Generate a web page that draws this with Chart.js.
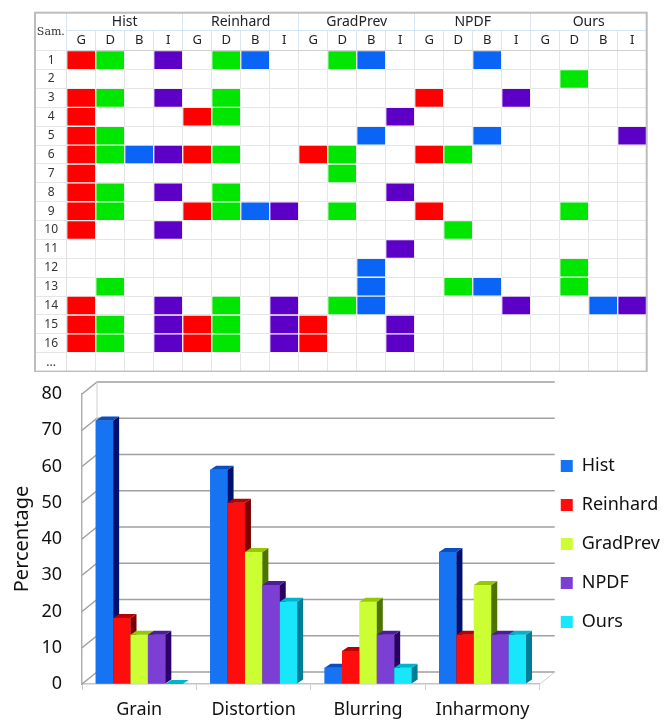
<!DOCTYPE html>
<html lang="en">
<head>
<meta charset="UTF-8">
<title>Artifacts per sample</title>
<script src="https://cdn.jsdelivr.net/npm/chart.js@4.4.1/dist/chart.umd.min.js"></script>
<style>
  body{margin:0; background:#fff;}
  #tableBox{position:absolute; left:0; top:0; width:670px; height:372px;}
  #barBox{position:absolute; left:0; top:372px; width:670px; height:350px;}
</style>
</head>
<body>
<div id="tableBox"><canvas id="tableChart"></canvas></div>
<div id="barBox"><canvas id="barChart"></canvas></div>
<script>
// ---- table data ----
const methods = ['Hist', 'Reinhard', 'GradPrev', 'NPDF', 'Ours'];
const artifacts = ['G', 'D', 'B', 'I'];
const sampleRows = ['1','2','3','4','5','6','7','8','9','10','11','12','13','14','15','16','...'];
// flagged columns per sample, column = method index * 4 + artifact index
const flaggedCells = [
  [0,1,3,5,6,9,10,14],
  [17],
  [0,1,3,5,12,15],
  [0,4,5,11],
  [0,1,10,14,19],
  [0,1,2,3,4,5,8,9,12,13],
  [0,9],
  [0,1,3,5,11],
  [0,1,4,5,6,7,9,12,17],
  [0,3,13],
  [11],
  [10,17],
  [1,10,13,14,17],
  [0,3,5,7,9,10,15,18,19],
  [0,1,3,4,5,7,8,11],
  [0,1,3,4,5,7,8,11],
  []
];

// ---- bar chart data ----
const categories = ['Grain', 'Distortion', 'Blurring', 'Inharmony'];
const histPct = [72.7, 59.1, 4.5, 36.4];
const reinhardPct = [18.2, 50.0, 9.1, 13.6];
const gradPrevPct = [13.6, 36.4, 22.7, 27.3];
const npdfPct = [13.6, 27.3, 13.6, 13.6];
const oursPct = [0, 22.7, 4.5, 13.6];

const cellColors = ['#ff0000', '#00e600', '#0a64f5', '#5c00c8'];
const frontColors = ['#1673f2', '#ff0d0d', '#ccff33', '#7b3fd4', '#18e6fb'];
const sideColors = ['#00106e', '#7a0000', '#4d7300', '#2a0066', '#007d96'];
const topColors = ['#0a4ec0', '#b80000', '#95c800', '#4c1c9c', '#00b4cc'];

const WALL_DX = 15, WALL_DY = -12;
const BAR_DX = 6, BAR_DY = -4;

// ---------- table ----------
const nCols = methods.length * artifacts.length;
const tableDatasets = [];
for (let c = 0; c < nCols; c++) {
  tableDatasets.push({
    label: methods[Math.floor(c / 4)] + ' ' + artifacts[c % 4],
    data: flaggedCells.map(cols => cols.includes(c) ? [c, c + 1] : null),
    backgroundColor: cellColors[c % 4],
    borderColor: 'rgba(255,255,255,0.35)',
    borderWidth: 1,
    borderSkipped: false,
    grouped: false,
    categoryPercentage: 1,
    barPercentage: 1
  });
}

const tableFrame = {
  id: 'tableFrame',
  afterDraw(chart) {
    const {ctx, chartArea, scales} = chart;
    const left = scales.y.left, top = scales.x2.top;
    ctx.save();
    ctx.fillStyle = '#333';
    ctx.font = '11px "DejaVu Serif"';
    ctx.textAlign = 'center';
    ctx.textBaseline = 'middle';
    ctx.fillText('Sam.', left + scales.y.width / 2, (top + chartArea.top) / 2);
    ctx.strokeStyle = '#bdbdbd';
    ctx.lineWidth = 2;
    ctx.strokeRect(left, top, chartArea.right - left, chartArea.bottom - top);
    ctx.restore();
  }
};

new Chart(document.getElementById('tableChart'), {
  type: 'bar',
  data: {labels: sampleRows, datasets: tableDatasets},
  options: {
    indexAxis: 'y',
    responsive: true,
    maintainAspectRatio: false,
    animation: false,
    layout: {padding: {left: 35, right: 23.3, top: 12.7, bottom: 0.4}},
    plugins: {legend: {display: false}, tooltip: {enabled: false}},
    scales: {
      x: {
        type: 'linear', position: 'top', min: 0, max: nCols, weight: 0,
        afterBuildTicks: s => { s.ticks = Array.from({length: nCols}, (_, i) => ({value: i + 0.5})); },
        afterFit: s => { s.height = 20; },
        ticks: {autoSkip: false, maxRotation: 0, padding: -17.8, color: '#222',
          font: {family: 'Noto Sans', size: 13}, callback: (v, i) => artifacts[i % 4]},
        grid: {offset: true, color: '#e6e6e6', tickColor: '#d9e6f0', tickLength: 20},
        border: {color: '#d0d0d0'}
      },
      x2: {
        type: 'linear', position: 'top', min: 0, max: nCols, weight: 1,
        afterBuildTicks: s => { s.ticks = methods.map((m, i) => ({value: i * 4 + 2})); },
        afterFit: s => { s.height = 18; },
        ticks: {autoSkip: false, maxRotation: 0, padding: -17.4, color: '#222',
          font: {family: 'Noto Sans', size: 14}, callback: (v, i) => methods[i]},
        grid: {offset: true, drawOnChartArea: false, tickColor: '#d6e6f2', tickLength: 18},
        border: {color: '#d6e6f2'}
      },
      y: {
        type: 'category', position: 'left',
        afterFit: s => { s.width = 31.7; },
        ticks: {crossAlign: 'center', padding: -23, color: '#333', font: {family: 'Noto Sans', size: 12}},
        grid: {offset: true, color: '#e6e6e6', tickColor: '#e6e6e6', tickLength: 31.7},
        border: {color: '#e0e0e0'}
      }
    }
  },
  plugins: [tableFrame]
});

// ---------- 3D bar chart ----------
const fill = (ctx, pts) => {
  ctx.beginPath();
  ctx.moveTo(pts[0][0], pts[0][1]);
  for (let i = 1; i < pts.length; i++) ctx.lineTo(pts[i][0], pts[i][1]);
  ctx.closePath();
  ctx.fill();
};

const box3d = {
  id: 'box3d',
  beforeDatasetsDraw(chart) {
    const {ctx, chartArea: a, scales: {y}} = chart;
    ctx.save();
    ctx.strokeStyle = '#a0a0a0';
    ctx.lineWidth = 1.5;
    y.ticks.forEach(t => {
      const py = y.getPixelForValue(t.value);
      ctx.beginPath();
      ctx.moveTo(a.left, py);
      ctx.lineTo(a.left + WALL_DX, py + WALL_DY);
      ctx.lineTo(a.right + WALL_DX, py + WALL_DY);
      ctx.stroke();
    });
    ctx.strokeStyle = '#cfcfcf';
    ctx.lineWidth = 1;
    ctx.beginPath();
    ctx.moveTo(a.left + WALL_DX, a.top + WALL_DY);
    ctx.lineTo(a.left + WALL_DX, a.bottom + WALL_DY);
    ctx.moveTo(a.right, a.bottom);
    ctx.lineTo(a.right + WALL_DX, a.bottom + WALL_DY);
    ctx.stroke();
    ctx.restore();
  },
  // repaint every bar from the first series to the last so each
  // bar's front face hides the side face of its left neighbour
  afterDatasetsDraw(chart) {
    const ctx = chart.ctx;
    ctx.save();
    chart.data.datasets.forEach((ds, i) => {
      chart.getDatasetMeta(i).data.forEach(bar => {
        const {x, y, base, width} = bar.getProps(['x', 'y', 'base', 'width'], true);
        const l = x - width / 2, r = x + width / 2;
        bar.draw(ctx);
        ctx.fillStyle = sideColors[i];
        fill(ctx, [[r, y], [r + BAR_DX, y + BAR_DY], [r + BAR_DX, base + BAR_DY], [r, base]]);
        ctx.fillStyle = topColors[i];
        fill(ctx, [[l, y], [l + BAR_DX, y + BAR_DY], [r + BAR_DX, y + BAR_DY], [r, y]]);
      });
    });
    ctx.restore();
  }
};

const seriesData = [histPct, reinhardPct, gradPrevPct, npdfPct, oursPct];
const barDatasets = methods.map((m, i) => ({
  label: m,
  data: seriesData[i],
  backgroundColor: frontColors[i],
  borderWidth: 0,
  categoryPercentage: 0.76,
  barPercentage: 1
}));

new Chart(document.getElementById('barChart'), {
  type: 'bar',
  data: {labels: categories, datasets: barDatasets},
  options: {
    responsive: true,
    maintainAspectRatio: false,
    animation: false,
    layout: {padding: {left: 0, right: 0, top: 22, bottom: 0}},
    plugins: {
      tooltip: {enabled: false},
      legend: {
        position: 'right',
        fullSize: false,
        // empty title only nudges the items down a little
        title: {display: true, text: '', font: {size: 1}, padding: 4.5},
        labels: {boxWidth: 12, boxHeight: 12, padding: 21, color: '#111',
          font: {family: 'Noto Sans', size: 18}}
      }
    },
    scales: {
      x: {
        afterFit: s => { s.height = 38; },
        ticks: {padding: 9, color: '#111', font: {family: 'Noto Sans', size: 18}},
        grid: {offset: true, drawOnChartArea: false, tickLength: 6, color: '#cccccc'},
        border: {color: '#c4c4c4', width: 1.5}
      },
      y: {
        min: 0, max: 80,
        afterFit: s => { s.width = 82; },
        ticks: {stepSize: 10, padding: 6, color: '#111', font: {family: 'Noto Sans', size: 18}},
        grid: {drawOnChartArea: false, drawTicks: true, tickLength: 14, tickColor: 'rgba(0,0,0,0)'},
        border: {display: true, color: '#b0b0b0', width: 1.5},
        title: {display: true, text: 'Percentage', color: '#111',
          font: {family: 'Noto Sans', size: 20}, padding: {top: 10, bottom: 0}}
      }
    }
  },
  plugins: [box3d]
});
</script>
</body>
</html>
